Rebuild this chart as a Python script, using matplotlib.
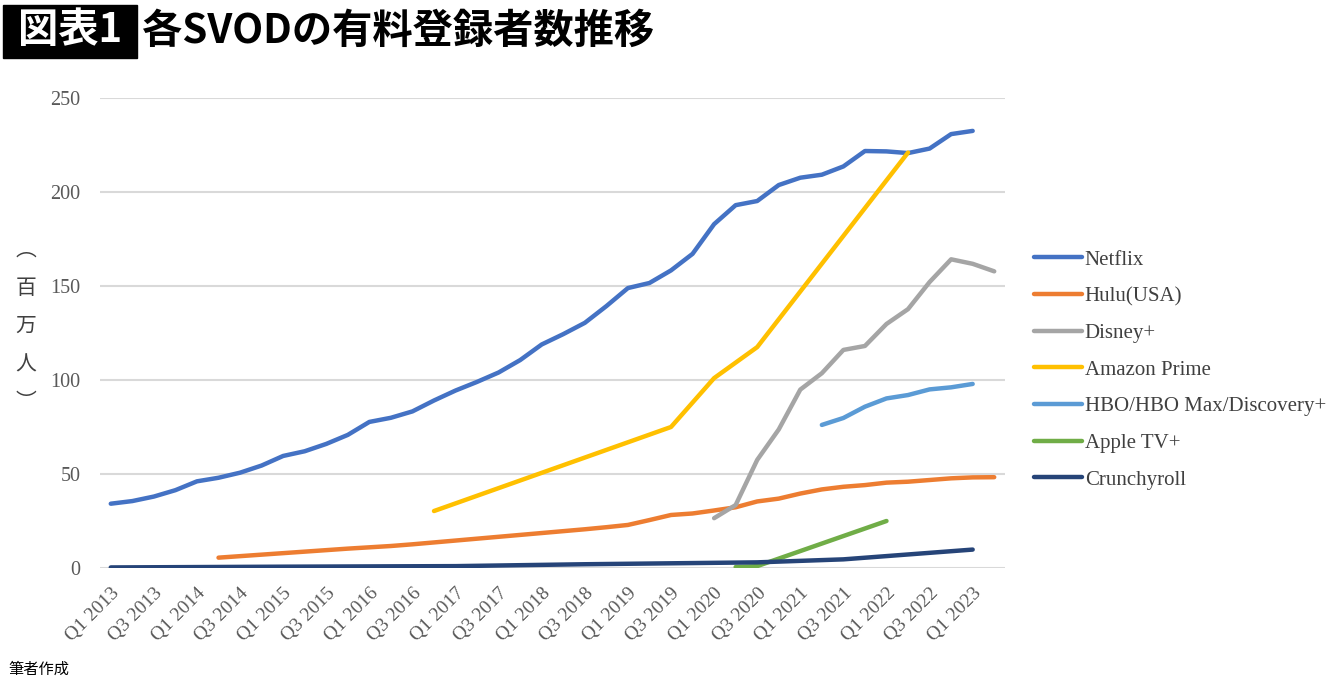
import numpy as np
import matplotlib
matplotlib.use("Agg")
import matplotlib.pyplot as plt
from matplotlib.patches import Rectangle

nan = np.nan

# ---- categories (Q1 2013 .. Q2 2023) ----
quarters = [f"Q{q} {y}" for y in range(2013, 2024) for q in (1, 2, 3, 4)][:42]
tick_labels = quarters[::2]

# ---- series values (millions), NaN = no data ----
netflix = [34.2, 35.6, 38.0, 41.4, 46.1, 48.0, 50.7, 54.5, 59.6, 62.1,
           66.0, 70.8, 77.7, 79.9, 83.3, 89.1, 94.4, 99.0, 104.0, 110.6,
           118.9, 124.4, 130.4, 139.3, 148.9, 151.6, 158.3, 167.1, 182.9, 193.0,
           195.2, 203.7, 207.6, 209.2, 213.6, 221.8, 221.6, 220.7, 223.1, 230.8,
           232.5, nan]
hulu = [nan, nan, nan, nan, nan, 5.5, 6.3, 7.1, 7.9, 8.7,
        9.5, 10.3, 11.0, 11.7, 12.6, 13.6, 14.6, 15.6, 16.6, 17.6,
        18.6, 19.6, 20.6, 21.7, 22.9, 25.5, 28.2, 29.0, 30.6, 32.3,
        35.4, 36.9, 39.6, 41.8, 43.2, 44.1, 45.4, 45.9, 46.8, 47.7,
        48.2, 48.3]
disney = [nan] * 28 + [26.5, 33.5, 57.5, 73.7, 94.9, 103.6, 116.0, 118.1,
                       129.8, 137.7, 152.1, 164.2, 161.8, 157.8]
amazon = [nan] * 42
for i, v in [(15, 30.3), (26, 75.0), (28, 101.0), (30, 117.5), (37, 221.0)]:
    amazon[i] = v
hbo = [nan] * 33 + [76.1, 79.8, 85.8, 90.2, 92.0, 95.0, 96.1, 97.9, nan]
apple = [nan] * 42
for i, v in [(29, 0.5), (30, 1.0), (36, 25.0)]:
    apple[i] = v
crunchy = [nan] * 42
for i, v in [(0, 0.3), (8, 0.7), (16, 1.0), (22, 2.0), (30, 3.0), (34, 4.6), (40, 9.8)]:
    crunchy[i] = v

series = [
    ("Netflix", netflix, "#4472c4"),
    ("Hulu(USA)", hulu, "#ed7d31"),
    ("Disney+", disney, "#a5a5a5"),
    ("Amazon Prime", amazon, "#ffc000"),
    ("HBO/HBO Max/Discovery+", hbo, "#5b9bd5"),
    ("Apple TV+", apple, "#70ad47"),
    ("Crunchyroll", crunchy, "#264478"),
]

W, H = 1340, 680
fig = plt.figure(figsize=(W / 100, H / 100), dpi=100)
ax = fig.add_axes([100 / W, 1 - 568 / H, 905 / W, 470 / H])

x = np.arange(len(quarters))
handles = []
for name, vals, col in series:
    v = np.array(vals, dtype=float)
    m = ~np.isnan(v)
    h, = ax.plot(x[m], v[m], color=col, lw=3.2, solid_capstyle="round",
                 solid_joinstyle="round", label=name)
    handles.append(h)

ax.set_xlim(-0.5, len(quarters) - 0.5)
ax.set_ylim(0, 250)
ax.set_yticks([0, 50, 100, 150, 200, 250])
ax.grid(axis="y", color="#d9d9d9", lw=1.5)
ax.set_axisbelow(True)
for s in ax.spines.values():
    s.set_visible(False)
ax.tick_params(axis="both", length=0, colors="#595959")
ax.tick_params(axis="y", pad=14)
for t in ax.get_yticklabels():
    t.set_fontfamily("Liberation Serif")
    t.set_fontsize(14.5)
ax.set_xticks(x[::2])
ax.set_xticklabels(tick_labels, rotation=45, ha="right", va="top",
                   rotation_mode="anchor", fontsize=14,
                   fontfamily="Liberation Serif", color="#595959")
ax.tick_params(axis="x", pad=12)

# y-axis unit label (vertical)
fig.text(26 / W, 1 - 326 / H, "︵\n百\n万\n人\n︶", ha="center", va="center",
         fontsize=15, color="#404040", linespacing=1.95,
         family=["Noto Sans CJK JP", "DejaVu Sans"])

leg = fig.legend(handles=handles, loc="center left",
                 bbox_to_anchor=(1015 / W, 1 - 370 / H), frameon=False,
                 handlelength=2.3, handletextpad=0.15, labelspacing=0.82,
                 prop={"family": "Liberation Serif", "size": 15})
for t in leg.get_texts():
    t.set_color("#404040")

# title
fig.patches.append(Rectangle((3 / W, 1 - 58 / H), 134 / W, 53 / H,
                             transform=fig.transFigure, color="black"))
fig.text(70 / W, 1 - 31 / H, "図表1", ha="center", va="center", color="white",
         fontsize=29, fontweight="bold", family=["Noto Sans CJK JP", "DejaVu Sans"])
fig.text(142 / W, 1 - 31 / H, "各SVODの有料登録者数推移", ha="left", va="center",
         color="black", fontsize=29, fontweight="bold",
         family=["Noto Sans CJK JP", "DejaVu Sans"])

fig.text(8 / W, 1 - 669 / H, "筆者作成", ha="left", va="center", color="black",
         fontsize=11, family=["Noto Sans CJK JP", "DejaVu Sans"])

fig.savefig("out.png", dpi=100, facecolor="white")
